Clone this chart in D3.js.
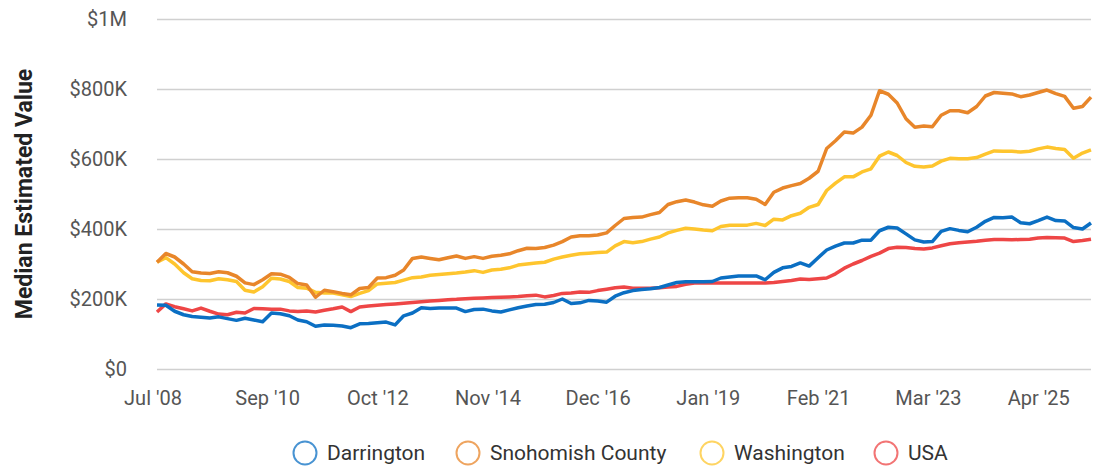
<!DOCTYPE html>
<html>
<head>
<meta charset="utf-8">
<script src="https://cdn.jsdelivr.net/npm/d3@7"></script>
<style>
  body { margin: 0; background: #fff; font-family: Roboto, "Noto Sans", sans-serif; }
  .tick text { fill: #555; }
</style>
</head>
<body>
<svg id="chart" width="1099" height="470"></svg>
<script>
// bimonthly samples, Aug 2008 .. Apr 2026 (values in $K)
var startMonth = new Date(2008, 7, 1);
var dates = d3.range(107).map(function (i) { return d3.timeMonth.offset(startMonth, i * 2); });

var darrington = [183,182,165,155,150,148,146,149,144,139,145,140,135,160,158,152,140,135,122,126,
  125,123,118,129,130,132,134,126,152,160,175,173,174,174,174,164,170,171,166,163,
  169,175,180,184,185,190,200,187,189,196,194,191,208,218,224,227,229,233,240,247,
  249,249,249,250,260,263,266,266,266,255,276,289,293,303,294,318,340,351,360,360,
  368,368,395,405,403,386,369,363,364,393,401,396,392,405,422,433,432,434,418,415,
  424,434,424,423,404,400,417];
var snohomish = [305,330,320,300,278,274,273,278,275,265,246,241,255,272,271,262,244,240,205,225,
  221,216,212,230,233,260,261,268,283,316,320,316,312,318,323,316,321,316,322,325,
  329,338,345,344,347,354,364,377,381,381,383,389,410,430,433,434,441,447,470,478,
  483,477,469,465,480,488,489,489,485,470,505,517,524,530,545,565,630,652,677,674,
  691,725,795,785,760,715,691,694,692,725,738,738,732,750,780,790,788,786,778,783,
  790,797,787,779,745,750,777];
var washington = [305,318,300,275,258,253,252,258,255,250,225,220,235,259,257,250,233,231,219,217,
  217,212,207,216,224,243,245,247,254,261,263,268,270,272,274,277,281,276,283,285,
  289,297,300,303,305,314,320,325,329,331,333,334,352,364,361,364,371,377,389,396,
  402,400,397,395,407,411,411,411,416,410,428,426,438,445,462,470,510,531,549,549,
  563,572,608,620,610,590,579,577,580,594,602,601,601,604,614,623,622,622,620,622,
  629,634,630,627,602,617,626];
var usa = [163,186,178,172,166,174,165,157,155,162,160,173,172,171,171,166,164,166,163,168,
  172,177,164,177,180,182,184,186,188,190,192,194,196,198,199,201,202,203,204,205,
  206,207,209,211,206,210,216,217,220,219,224,228,232,234,231,231,231,232,234,236,
  242,246,246,246,246,246,246,246,246,246,247,250,253,257,256,258,260,272,288,300,
  310,322,331,344,348,347,344,343,346,352,358,361,363,365,368,370,370,369,370,371,
  374,376,375,374,364,367,371];

var seriesNames = ["Darrington", "Snohomish County", "Washington", "USA"];
var seriesValues = [darrington, snohomish, washington, usa];
var seriesColors = ["#0b6fc3", "#e8862a", "#fec52e", "#ee4646"];

var yTicks = [0, 200000, 400000, 600000, 800000, 1000000];
var xTickDates = [new Date(2008, 6, 1), new Date(2010, 8, 1), new Date(2012, 9, 1), new Date(2014, 10, 1),
  new Date(2016, 11, 1), new Date(2019, 0, 1), new Date(2021, 1, 1), new Date(2023, 2, 1), new Date(2025, 3, 1)];

var svg = d3.select("#chart");

var x = d3.scaleTime()
  .domain(d3.extent(dates))
  .range([157, 1091]);

var y = d3.scaleLinear()
  .domain([0, 1000000])
  .range([369, 19]);

var fmtY = function (v) {
  if (v === 0) return "$0";
  if (v >= 1000000) return "$" + (v / 1000000) + "M";
  return "$" + (v / 1000) + "K";
};

// grid + y labels
var yAxis = svg.append("g")
  .attr("transform", "translate(157,0)")
  .call(d3.axisLeft(y).tickValues(yTicks).tickFormat(fmtY).tickSize(-934).tickPadding(30));
yAxis.select(".domain").remove();
yAxis.selectAll(".tick line").attr("stroke", "#d0d0d0").attr("stroke-width", 1.5);
yAxis.selectAll(".tick text").attr("font-size", 20).attr("font-family", "Roboto");

// x labels
var xAxis = svg.append("g")
  .attr("transform", "translate(0,369)")
  .call(d3.axisBottom(x).tickValues(xTickDates).tickFormat(d3.timeFormat("%b '%y")).tickSize(0).tickPadding(22));
xAxis.select(".domain").remove();
xAxis.selectAll(".tick text").attr("font-size", 20).attr("font-family", "Roboto");

svg.append("text")
  .attr("transform", "translate(32,194) rotate(-90)")
  .attr("text-anchor", "middle")
  .attr("font-size", 23)
  .attr("font-weight", "bold")
  .attr("fill", "#222")
  .text("Median Estimated Value");

var line = d3.line()
  .x(function (d, i) { return x(dates[i]); })
  .y(function (d) { return y(d * 1000); });

// draw back to front: USA, Washington, Snohomish, Darrington
[3, 2, 1, 0].forEach(function (k) {
  svg.append("path")
    .datum(seriesValues[k])
    .attr("fill", "none")
    .attr("stroke", seriesColors[k])
    .attr("stroke-width", 3.5)
    .attr("stroke-linejoin", "round")
    .attr("d", line);
});

// legend
var legendX = [305, 468, 712, 886];
var legend = svg.append("g").attr("transform", "translate(0,453)");
seriesNames.forEach(function (name, k) {
  legend.append("circle")
    .attr("cx", legendX[k])
    .attr("cy", 0)
    .attr("r", 11.5)
    .attr("fill", "none")
    .attr("stroke", seriesColors[k])
    .attr("stroke-opacity", 0.75)
    .attr("stroke-width", 2);
  legend.append("text")
    .attr("x", legendX[k] + 22)
    .attr("y", 7)
    .attr("font-size", 21)
    .attr("fill", "#333")
    .text(name);
});
</script>
</body>
</html>
